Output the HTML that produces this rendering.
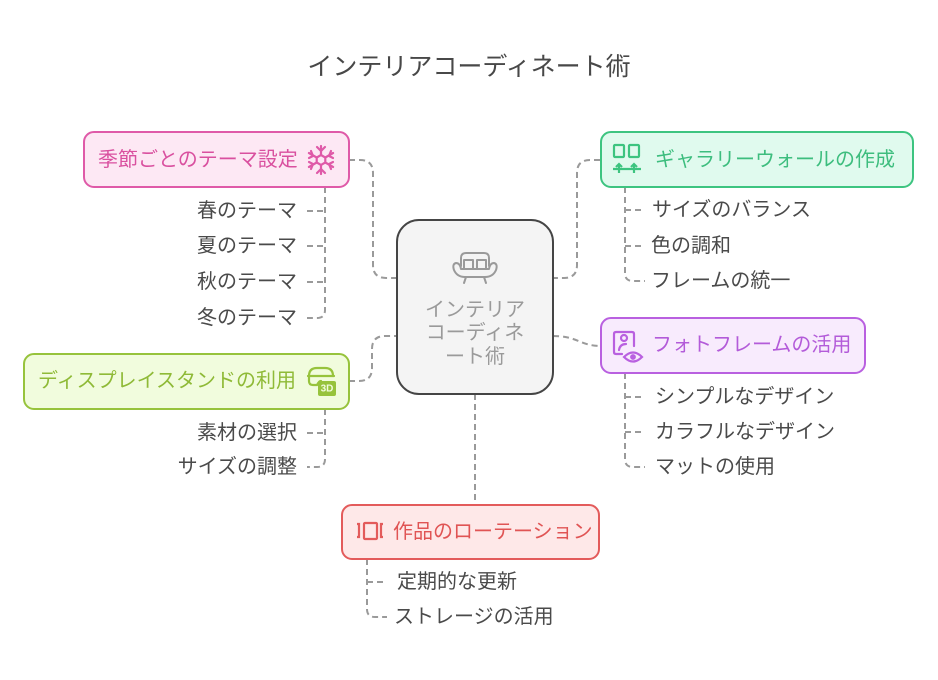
<!DOCTYPE html>
<html><head><meta charset="utf-8">
<style>
html,body{margin:0;padding:0;background:#fff;}
svg{display:block;}
text{font-family:"Liberation Sans","Noto Sans CJK JP",sans-serif;}
</style></head>
<body>
<svg width="938" height="680" viewBox="0 0 938 680" xmlns="http://www.w3.org/2000/svg">
<rect width="938" height="680" fill="#fff"/>
<!-- title -->
<text x="469" y="67" font-size="25" fill="#484848" text-anchor="middle" dominant-baseline="central">インテリアコーディネート術</text>

<!-- connectors -->
<g fill="none" stroke="#9a9a9a" stroke-width="2" stroke-dasharray="6,4">
  <!-- pink main -->
  <path d="M349,160 L360,160 Q373,160 373,173 L373,265 Q373,278 386,278 L397,278"/>
  <!-- pink sub -->
  <path d="M325,187 L325,310 Q325,318 317,318 L307,318"/>
  <path d="M307,211 L325,211"/>
  <path d="M307,246 L325,246"/>
  <path d="M307,282 L325,282"/>
  <!-- green main -->
  <path d="M600,160 L590,160 Q577,160 577,173 L577,265 Q577,278 564,278 L553,278"/>
  <!-- green sub -->
  <path d="M625,187 L625,273 Q625,281 633,281 L645,281"/>
  <path d="M625,210 L645,210"/>
  <path d="M625,246 L645,246"/>
  <!-- yellow-green main -->
  <path d="M349,381 L359,381 Q372,381 372,368 L372,349 Q372,336 385,336 L397,336"/>
  <!-- yellow-green sub -->
  <path d="M325,409 L325,459 Q325,467 317,467 L307,467"/>
  <path d="M307,433 L325,433"/>
  <!-- purple main -->
  <path d="M553,336 C578,336 580,346 601,346"/>
  <!-- purple sub -->
  <path d="M625,373 L625,459 Q625,467 633,467 L645,467"/>
  <path d="M625,397 L645,397"/>
  <path d="M625,432 L645,432"/>
  <!-- red main -->
  <path d="M475,394 L475,505"/>
  <!-- red sub -->
  <path d="M367,559 L367,609 Q367,617 375,617 L387,617"/>
  <path d="M367,582 L387,582"/>
</g>

<!-- center node -->
<rect x="397" y="220" width="156" height="174" rx="22" fill="#f4f4f4" stroke="#454545" stroke-width="2"/>
<g fill="none" stroke="#9a9a9a" stroke-width="2" stroke-linecap="round" stroke-linejoin="round">
  <path d="M461,266 L461,258 Q461,253 466,253 L484,253 Q489,253 489,258 L489,266"/>
  <path d="M461,269 Q460,263 456,263 Q452,264 454,270 Q457,277 465,277 L485,277 Q493,277 496,270 Q498,264 494,263 Q490,263 489,269 L461,269"/>
  <path d="M464,268 L464,260 L473,260 L473,268"/>
  <path d="M477,268 L477,260 L486,260 L486,268"/>
  <path d="M466,277 L464,283"/>
  <path d="M484,277 L486,283"/>
</g>
<g font-size="20" fill="#9a9a9a" text-anchor="middle">
  <text x="475" y="310" dominant-baseline="central">インテリア</text>
  <text x="475" y="333" dominant-baseline="central">コーディネ</text>
  <text x="475" y="357" dominant-baseline="central">ート術</text>
</g>

<!-- pink node -->
<rect x="84" y="132" width="265" height="55" rx="10" fill="#fde8f4" stroke="#df5aa8" stroke-width="2"/>
<text x="98" y="160" font-size="20" fill="#d9509f" dominant-baseline="central">季節ごとのテーマ設定</text>
<g stroke="#df5aa8" stroke-width="2.2" fill="none" stroke-linecap="round">
  <path d="M321,146 L321,174"/>
  <path d="M308.9,153 L333.1,167"/>
  <path d="M308.9,167 L333.1,153"/>
  <path d="M317,147 L321,151 L325,147"/>
  <path d="M317,173 L321,169 L325,173"/>
  <path d="M309,158 L313,156 L311,151"/>
  <path d="M333,158 L329,156 L331,151"/>
  <path d="M309,162 L313,164 L311,169"/>
  <path d="M333,162 L329,164 L331,169"/>
  <polygon points="321,155 325.3,157.5 325.3,162.5 321,165 316.7,162.5 316.7,157.5" fill="#fde8f4"/>
</g>
<g font-size="20" fill="#4a4a4a" text-anchor="end">
  <text x="297" y="211" dominant-baseline="central">春のテーマ</text>
  <text x="297" y="246" dominant-baseline="central">夏のテーマ</text>
  <text x="297" y="282" dominant-baseline="central">秋のテーマ</text>
  <text x="297" y="318" dominant-baseline="central">冬のテーマ</text>
</g>

<!-- green node -->
<rect x="601" y="132" width="312" height="55" rx="10" fill="#e0faee" stroke="#3dc480" stroke-width="2"/>
<g stroke="#3dc480" stroke-width="2.2" fill="none">
  <rect x="614" y="145" width="10" height="12" rx="1"/>
  <rect x="629" y="145" width="10" height="12" rx="1"/>
  <path d="M613,169 L641,169"/>
  <path d="M619,164 L619,173"/>
  <path d="M634,164 L634,173"/>
  <path d="M616,167 L619,164 L622,167"/>
  <path d="M631,167 L634,164 L637,167"/>
</g>
<text x="655" y="160" font-size="20" fill="#3dbd7e" dominant-baseline="central">ギャラリーウォールの作成</text>
<g font-size="20" fill="#4a4a4a">
  <text x="652" y="210" dominant-baseline="central">サイズのバランス</text>
  <text x="651" y="246" dominant-baseline="central">色の調和</text>
  <text x="651" y="281" dominant-baseline="central">フレームの統一</text>
</g>

<!-- yellow-green node -->
<rect x="24" y="354" width="325" height="55" rx="10" fill="#f1fcdd" stroke="#97c33c" stroke-width="2"/>
<text x="38" y="381" font-size="20" fill="#8fba37" dominant-baseline="central">ディスプレイスタンドの利用</text>
<g stroke="#97c33c" stroke-width="2.2" fill="none" stroke-linecap="round">
  <path d="M309,376 Q309,368 317,368 L325,368 Q333,368 333,376"/>
  <path d="M308,376 L334,376"/>
  <path d="M309,376 L309,381 Q309,385 313,385 L317,385 Q319,381 321,381"/>
</g>
<rect x="318" y="381" width="18" height="15" rx="2" fill="#97c33c"/>
<text x="327" y="389" font-size="10" font-weight="bold" fill="#f1fcdd" text-anchor="middle" dominant-baseline="central">3D</text>
<g font-size="20" fill="#4a4a4a" text-anchor="end">
  <text x="297" y="433" dominant-baseline="central">素材の選択</text>
  <text x="297" y="467" dominant-baseline="central">サイズの調整</text>
</g>

<!-- purple node -->
<rect x="601" y="318" width="264" height="55" rx="10" fill="#f8ebfd" stroke="#b960e0" stroke-width="2"/>
<g stroke="#b960e0" stroke-width="2.2" fill="none" stroke-linecap="round">
  <path d="M622,354 L616,354 Q614,354 614,352 L614,334 Q614,332 616,332 L632,332 Q634,332 634,334 L634,346"/>
  <circle cx="624" cy="338" r="3"/>
  <path d="M619,350 Q620,344 626,344"/>
  <path d="M624,357 Q633,348 642,357 Q633,366 624,357 Z" fill="#f8ebfd"/>
  <circle cx="633" cy="357" r="1.8" fill="#b960e0"/>
</g>
<text x="652" y="345" font-size="20" fill="#b35bd9" dominant-baseline="central">フォトフレームの活用</text>
<g font-size="20" fill="#4a4a4a">
  <text x="655" y="397" dominant-baseline="central">シンプルなデザイン</text>
  <text x="655" y="432" dominant-baseline="central">カラフルなデザイン</text>
  <text x="655" y="467" dominant-baseline="central">マットの使用</text>
</g>

<!-- red node -->
<rect x="342" y="505" width="257" height="54" rx="10" fill="#fee8e8" stroke="#e35b5b" stroke-width="2"/>
<g stroke="#e35b5b" stroke-width="2.2" fill="none">
  <path d="M357,524 L359,524 L359,537 L357,537"/>
  <rect x="364" y="523" width="13" height="16" rx="1"/>
  <path d="M383,524 L381,524 L381,537 L383,537"/>
</g>
<text x="393" y="532" font-size="20" fill="#e05454" dominant-baseline="central">作品のローテーション</text>
<g font-size="20" fill="#4a4a4a">
  <text x="397" y="582" dominant-baseline="central">定期的な更新</text>
  <text x="394" y="617" dominant-baseline="central">ストレージの活用</text>
</g>
</svg>
</body></html>
